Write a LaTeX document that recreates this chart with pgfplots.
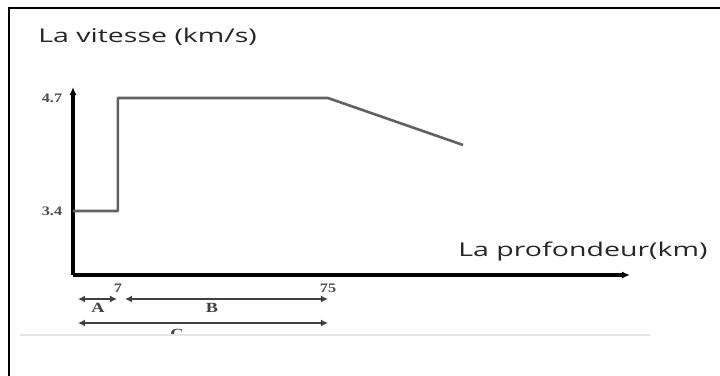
\documentclass[border=0pt]{standalone}
\usepackage{pgfplots}
\pgfplotsset{compat=1.18}
\usetikzlibrary{arrows.meta}
\usepackage{fontspec}
\setmainfont{Liberation Serif}
\newfontfamily\labfont{Open Sans}
\newfontfamily\serfont{Liberation Serif}

\begin{document}
\begin{tikzpicture}[x=0.5pt,y=-0.5pt]
\useasboundingbox (0,0) rectangle (720,376);
\fill[white] (0,0) rectangle (720,376);
\draw[line width=1.2pt] (9,376) -- (9,8) -- (720,8);
\begin{axis}[
  at={(36.5pt,-137.5pt)}, anchor=south west,
  scale only axis, width=278.5pt, height=94pt,
  xmin=0, xmax=163.8, ymin=2.664, ymax=4.827,
  axis lines=left,
  axis line style={line width=1.6pt, black, -{Latex[length=4pt,width=3.5pt]}},
  xtick={13.2,75}, xticklabels={7,75},
  ytick={3.4,4.7}, yticklabels={3.4,4.7},
  tick style={black, line width=0.8pt},
  major tick length=2pt,
  tick align=center,
  /pgf/number format/assume math mode=true,
  ticklabel style={font=\serfont\fontsize{6.5}{7}\selectfont\bfseries, text=black!70, xscale=1.25},
  clip=false,
]
\addplot[line width=1.3pt, color=black!62, line join=round] coordinates {(0,3.4) (13.2,3.4) (13.2,4.7) (75,4.7) (114.7,4.16)};
\end{axis}
\node[anchor=base west, inner sep=0, text=black!85] at (38,42) {\labfont\fontsize{9.5}{11}\selectfont\scalebox{1.5}[1]{La vitesse (km/s)}};
\node[anchor=base west, inner sep=0, text=black!85] at (458,256) {\labfont\fontsize{9.5}{11}\selectfont\scalebox{1.5}[1]{La profondeur(km)}};
\tikzset{dim/.style={line width=1.1pt, black!75, {Latex[length=3.5pt,width=3.5pt]}-{Latex[length=3.5pt,width=3.5pt]}}}
\draw[dim] (78,299) -- (117,299);
\draw[dim] (125,299) -- (328,299);
\draw[dim] (78,323) -- (328,323);
\node[text=black!75, inner sep=0] at (98,308) {\serfont\fontsize{7}{8}\selectfont\bfseries\scalebox{1.3}[1]{A}};
\node[text=black!75, inner sep=0] at (212,308) {\serfont\fontsize{7}{8}\selectfont\bfseries\scalebox{1.3}[1]{B}};
\begin{scope}
\clip (0,0) rectangle (720,334);
\node[text=black!75, inner sep=0] at (177,334) {\serfont\fontsize{7}{8}\selectfont\bfseries\scalebox{1.3}[1]{C}};
\end{scope}
\draw[black!10, line width=1pt] (20,334.5) -- (650,334.5);
\end{tikzpicture}
\end{document}
